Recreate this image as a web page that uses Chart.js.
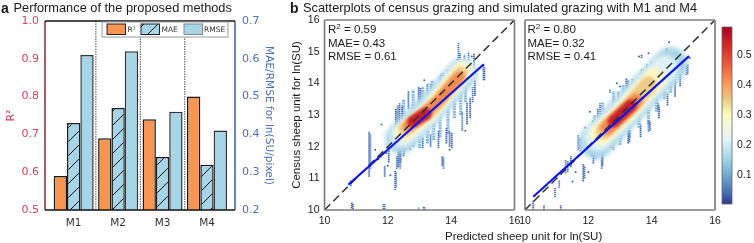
<!DOCTYPE html>
<html>
<head>
<meta charset="utf-8">
<script src="https://cdn.jsdelivr.net/npm/chart.js@4"></script>
<style>
html, body { margin: 0; padding: 0; background: #fff; width: 754px; height: 243px; overflow: hidden; }
canvas { position: absolute; left: 0; top: 0; }
.t { position: absolute; font-family: "Liberation Sans", sans-serif; color: #1a1a1a; white-space: nowrap; line-height: 1; }
.t sup { font-size: 0.7em; line-height: 0; vertical-align: 0.45em; }
.note { font-size: 11.5px; line-height: 13.7px; }
</style>
</head>
<body>
<canvas id="bars" width="754" height="243"></canvas>
<canvas id="m1" width="754" height="243"></canvas>
<canvas id="m4" width="754" height="243"></canvas>
<canvas id="cbar" width="754" height="243"></canvas>
<div class="t" style="left:1px;top:1px;font-size:14px;font-weight:bold">a</div>
<div class="t" style="left:13.5px;top:2px;font-size:12.8px">Performance of the proposed methods</div>
<div class="t" style="left:290px;top:1px;font-size:14px;font-weight:bold">b</div>
<div class="t" style="left:303px;top:2px;font-size:12.8px">Scatterplots of census grazing and simulated grazing with M1 and M4</div>
<div class="t note" style="left:328px;top:23px">R<sup>2</sup> = 0.59<br>MAE= 0.43<br>RMSE = 0.61</div>
<div class="t note" style="left:527.5px;top:23px">R<sup>2</sup> = 0.80<br>MAE= 0.32<br>RMSE = 0.41</div>
<div class="t" style="left:445px;top:231px;font-size:11.5px">Predicted sheep unit for ln(SU)</div>
<script>
// Panel a
var methods = ['M1', 'M2', 'M3', 'M4'];
var r2Values = [0.59, 0.69, 0.74, 0.80];
var maeValues = [0.43, 0.47, 0.34, 0.32];
var rmseValues = [0.61, 0.62, 0.46, 0.41];
var legendLabels = ['R²', 'MAE', 'RMSE'];
var groupEdges = [0.5, 1.5, 2.5];

// Panel b: diagonal and fitted lines
var oneToOne = [[10, 10], [16, 16]];
var m1Fit = [[10.75, 10.8], [15.03, 14.6]];
var m4Fit = [[10.26, 10.42], [15.18, 14.86]];

// Density bands, outer colour to inner colour
var m1Sky = [[12.4, 12.25], [13.0, 12.85], [14.35, 14.3]];
var m1Pale = [[12.45, 12.35], [13.2, 13.0], [14.4, 14.4]];
var m1Cream = [[12.5, 12.45], [13.3, 13.1], [14.35, 14.4]];
var m1Tan = [[12.55, 12.55], [13.4, 13.2], [14.3, 14.3]];
var m1Orange = [[12.65, 12.65], [13.6, 13.45], [14.25, 14.2]];
var m1Red = [[12.8, 12.8], [13.2, 13.03]];

var m4Sky = [[12.25, 12.15], [13.1, 13.05], [14.6, 14.6]];
var m4Pale = [[12.3, 12.3], [13.1, 13.05], [14.4, 14.45]];
var m4Cream = [[12.4, 12.4], [13.2, 13.15], [14.1, 14.15]];
var m4Tan = [[12.5, 12.5], [13.3, 13.25], [13.9, 13.95]];
var m4Orange = [[12.6, 12.6], [13.5, 13.45]];
var m4Red = [[12.8, 12.8], [13.35, 13.3]];

// Vertical runs of dots: x, lowest y, highest y
var m1Runs = [
  [10.83, 10.75, 10.95], [10.86, 10.05, 10.25], [10.9, 10.02, 10.2], [11.86, 10.02, 10.2], [11.9, 10.02, 10.2],
  [12.97, 10, 10.08], [13.13, 10, 10.1], [13.17, 10, 10.08], [11.41, 11.05, 12.47], [11.45, 11.3, 12.4],
  [11.9, 11.05, 11.4], [12.03, 11.5, 12.0], [12.23, 10.63, 11.25], [12.26, 10.7, 11.2], [12.39, 11.3, 12.0],
  [12.33, 11.35, 11.9], [12.28, 11.3, 11.7], [12.5, 11.7, 12.2], [12.7, 11.9, 12.3], [13.76, 11.3, 11.65], [13.72, 11.4, 11.7],
  [14.02, 11.95, 12.45], [13.95, 12.0, 12.5], [13.6, 11.95, 12.5], [13.35, 12.0, 12.4], [13.1, 11.95, 12.3], [13.85, 12.1, 12.6],
  [12.25, 12.4, 13.2], [12.31, 12.5, 13.3], [12.37, 12.7, 13.37], [12.45, 12.7, 13.3], [12.65, 13.2, 13.75], [12.97, 13.26, 13.9],
  [13.03, 13.3, 13.85], [13.25, 13.5, 14.0], [13.35, 13.5, 14.0], [13.68, 13.85, 14.3], [13.75, 13.9, 14.35],
  [14.05, 14.2, 14.5], [14.23, 14.6, 15.3], [14.28, 14.55, 14.95], [14.55, 14.6, 15.0], [14.42, 14.5, 14.9],
  [14.72, 14.5, 14.95], [14.6, 12.9, 13.55], [14.5, 12.7, 13.4], [14.35, 12.5, 13.1], [14.68, 13.4, 13.9],
  [15.02, 14.1, 14.6], [15.05, 14.1, 14.5], [14.75, 13.6, 14.1]
];
var m4Runs = [
  [10.26, 10, 10.3], [10.6, 10, 10.15], [11.13, 10, 10.15], [10.95, 10.4, 10.7], [11.08, 10.7, 10.95],
  [11.28, 11.15, 11.58], [11.35, 11.2, 11.55], [11.45, 11.35, 11.7], [11.84, 10.9, 11.47], [11.88, 11.0, 11.4],
  [11.68, 11.9, 12.37], [11.95, 12.0, 12.47], [11.98, 12.0, 12.4], [12.02, 12.0, 12.35], [12.16, 11.47, 12.0], [12.42, 11.3, 11.68],
  [12.45, 11.4, 11.9], [12.1, 11.7, 12.1], [12.79, 11.9, 12.16], [13.26, 12.1, 12.53], [13.3, 12.15, 12.5],
  [13.65, 12.3, 12.7], [13.9, 12.47, 12.84], [13.95, 12.5, 12.8], [14.2, 13.16, 13.37], [14.23, 12.9, 13.3],
  [14.5, 13.3, 13.7], [14.74, 13.58, 14.1], [14.9, 13.9, 14.3], [15.1, 14.26, 14.58], [15.14, 14.3, 14.6],
  [12.37, 12.84, 13.37], [12.3, 12.9, 13.2], [12.68, 13.7, 13.82], [12.95, 13.3, 13.75], [13.2, 13.6, 14.16],
  [13.25, 13.6, 14.1], [13.68, 14.8, 14.9], [13.85, 14.2, 14.6], [14.2, 14.37, 14.84], [14.25, 14.4, 14.8],
  [14.47, 14.74, 15.1], [14.74, 14.5, 14.95], [14.7, 14.6, 14.95]
];
// Lighter runs close to the dense band
var m1SoftRuns = [
  [12.4, 11.5, 12.6], [12.55, 11.9, 12.5], [12.8, 12.0, 12.6], [13.0, 11.95, 12.6], [13.25, 12.1, 12.8],
  [13.45, 12.2, 13.0], [13.65, 12.3, 13.1], [13.9, 12.4, 13.4], [14.1, 12.9, 13.6], [14.3, 13.0, 13.9],
  [14.45, 13.4, 14.0], [12.5, 13.0, 13.5], [12.8, 13.2, 13.8], [13.1, 13.4, 13.9], [13.4, 13.6, 14.1],
  [13.65, 13.8, 14.2], [13.9, 14.1, 14.45], [14.2, 14.3, 14.8], [14.4, 14.4, 14.75]
];
var m4SoftRuns = [
  [11.75, 11.85, 12.3], [11.95, 12.0, 12.4], [12.2, 11.6, 12.1], [12.3, 11.85, 12.25], [12.55, 11.9, 12.3],
  [12.7, 11.95, 12.4], [13.0, 12.05, 12.45], [13.3, 12.3, 12.65], [13.6, 12.6, 13.0], [13.9, 12.7, 13.2],
  [14.15, 13.1, 13.6], [14.4, 13.5, 14.0], [14.6, 13.7, 14.2], [12.2, 12.6, 13.0], [12.45, 13.0, 13.4],
  [12.8, 13.4, 13.75], [13.1, 13.55, 13.95], [13.4, 13.75, 14.15], [13.7, 14.05, 14.45], [14.0, 14.3, 14.7],
  [14.3, 14.5, 14.9]
];
// Single stray dots
var m1Strays = [[11.8, 12.7], [12.1, 12.3], [11.7, 11.6], [11.6, 11.9], [12.08, 11.1], [12.0, 11.4], [11.95, 11.8], [14.65, 14.85], [13.95, 11.9], [14.45, 12.5], [13.15, 14.1]];
var m4Strays = [[11.5, 10.9], [11.6, 11.2], [11.0, 11.0], [12.0, 11.2], [11.9, 12.6], [12.15, 12.8], [12.05, 13.1], [12.9, 14.0], [13.0, 13.9], [14.55, 15.3], [13.6, 14.85], [13.9, 14.95], [15.2, 14.8]];

// Colour bar
var cbarRange = [0.003, 0.593];
var cbarTicks = [0.1, 0.2, 0.3, 0.4, 0.5];
var cbarStops = [0, 0.07, 0.17, 0.27, 0.36, 0.48, 0.5, 0.6, 0.63, 0.7, 0.82, 0.92, 1];
var cbarColors = ['#313695', '#4575b4', '#74add1', '#abd9e9', '#e0f3f8', '#fbfbd0', '#ffffbf', '#e6c47e', '#f5b56e', '#f98e52', '#e34a33', '#c82027', '#a50026'];

// Diagonal hatch tile for the MAE bars
function hatchPattern(ctx) {
  var tile = document.createElement('canvas');
  tile.width = 14;
  tile.height = 14;
  var g = tile.getContext('2d');
  g.fillStyle = '#a6d5e8';
  g.fillRect(0, 0, 14, 14);
  g.strokeStyle = '#111';
  g.lineWidth = 1;
  g.beginPath();
  g.moveTo(-2, 16);
  g.lineTo(16, -2);
  g.stroke();
  return ctx.createPattern(tile, 'repeat');
}

function pts(list) {
  return list.map(function (p) { return { x: p[0], y: p[1] }; });
}

function runPts(list) {
  var out = [];
  list.forEach(function (r) {
    out.push({ x: r[0], y: r[1] }, { x: r[0], y: r[2] }, { x: NaN, y: NaN });
  });
  return out;
}

// Spines drawn around the plot area, colours come from options.plugins.frame
var framePlugin = {
  id: 'frame',
  afterDraw: function (chart, args, opts) {
    var a = chart.chartArea, c = chart.ctx;
    var sides = [
      [a.left, a.top, a.left, a.bottom, opts.left],
      [a.right, a.top, a.right, a.bottom, opts.right],
      [a.left, a.top, a.right, a.top, opts.top],
      [a.left, a.bottom, a.right, a.bottom, opts.bottom]
    ];
    c.save();
    c.lineWidth = opts.width;
    sides.forEach(function (s) {
      c.strokeStyle = s[4];
      c.beginPath();
      c.moveTo(s[0], s[1]);
      c.lineTo(s[2], s[3]);
      c.stroke();
    });
    c.restore();
  }
};

// Soft edges for the density bands
var blurPlugin = {
  id: 'blur',
  beforeDatasetDraw: function (chart, args) {
    var b = chart.data.datasets[args.index].blur;
    if (b) chart.ctx.filter = 'blur(' + b + 'px)';
  },
  afterDatasetDraw: function (chart) {
    chart.ctx.filter = 'none';
  }
};

// Dotted separators and the legend box of panel a
var barExtras = {
  id: 'barExtras',
  afterDraw: function (chart) {
    var c = chart.ctx, a = chart.chartArea, sx = chart.scales.x;
    c.save();
    c.strokeStyle = '#222';
    c.lineWidth = 0.8;
    c.setLineDash([1.5, 1]);
    groupEdges.forEach(function (v) {
      var px = sx.getPixelForValue(v);
      c.beginPath();
      c.moveTo(px, a.top);
      c.lineTo(px, a.bottom);
      c.stroke();
    });
    c.setLineDash([]);
    c.fillStyle = '#fff';
    c.fillRect(102, 22, 126, 15);
    c.strokeStyle = '#999';
    c.lineWidth = 1;
    c.strokeRect(102, 22, 126, 15);
    var fills = ['#f79552', hatchPattern(c), '#a6d5e8'];
    var boxX = [107, 141, 184];
    var textX = [127.5, 161.5, 204];
    c.font = '7.5px "DejaVu Sans"';
    c.textBaseline = 'middle';
    legendLabels.forEach(function (label, i) {
      c.fillStyle = fills[i];
      c.fillRect(boxX[i], 24, 18.5, 10.5);
      c.strokeStyle = i === 2 ? '#888' : '#222';
      c.strokeRect(boxX[i], 24, 18.5, 10.5);
      c.fillStyle = '#333';
      c.fillText(label, textX[i], 30);
    });
    c.restore();
  }
};

var barCtx = document.getElementById('bars').getContext('2d');
var barX = methods.map(function (m, i) { return i; });
function barData(values) {
  return values.map(function (v, i) { return { x: barX[i], y: v }; });
}
new Chart(barCtx, {
  type: 'bar',
  data: {
    datasets: [
      { label: legendLabels[0], data: barData(r2Values), yAxisID: 'y', backgroundColor: '#f79552', borderColor: '#1a1a1a', borderWidth: 1.5 },
      { label: legendLabels[1], data: barData(maeValues), yAxisID: 'y2', backgroundColor: hatchPattern(barCtx), borderColor: '#1a1a1a', borderWidth: 1.5 },
      { label: legendLabels[2], data: barData(rmseValues), yAxisID: 'y2', backgroundColor: '#a6d5e8', borderColor: '#333', borderWidth: 1.5 }
    ]
  },
  options: {
    responsive: false,
    animation: false,
    devicePixelRatio: 1,
    barPercentage: 1,
    categoryPercentage: 0.9,
    layout: { padding: { left: 5, right: 754 - 235 - 40, top: 21, bottom: 243 - 210 - 22 } },
    plugins: {
      legend: { display: false },
      tooltip: { enabled: false },
      frame: { left: '#8a2b2e', right: '#3f5f8f', top: '#111', bottom: '#111', width: 1.5 }
    },
    scales: {
      x: {
        type: 'linear',
        offset: false,
        min: -0.645,
        max: 3.63,
        grid: { display: false, offset: false, drawTicks: false },
        border: { display: false },
        afterBuildTicks: function (s) { s.ticks = barX.map(function (v) { return { value: v }; }); },
        afterFit: function (s) { s.height = 22; },
        ticks: {
          autoSkip: false,
          maxRotation: 0,
          padding: 7,
          color: '#333',
          font: { family: 'DejaVu Sans', size: 10.5 },
          callback: function (v) { return methods[v]; }
        }
      },
      y: {
        position: 'left',
        min: 0.5,
        max: 1.0,
        grid: { display: false, tickLength: 5, tickColor: '#d9405a', tickWidth: 1 },
        border: { display: false },
        afterFit: function (s) { s.width = 40; },
        title: { display: true, text: 'R²', color: '#d9405a', padding: 0, font: { family: 'DejaVu Sans', size: 11 } },
        ticks: { stepSize: 0.1, padding: 1, color: '#d9405a', font: { family: 'DejaVu Sans', size: 11 }, callback: function (v) { return v.toFixed(1); } }
      },
      y2: {
        position: 'right',
        min: 0.2,
        max: 0.7,
        grid: { display: false, tickLength: 5, tickColor: '#4a6fc0', tickWidth: 1 },
        border: { display: false },
        afterFit: function (s) { s.width = 40; },
        title: { display: true, text: 'MAE/RMSE for ln(SU/pixel)', color: '#4a6fc0', padding: 0, font: { family: 'DejaVu Sans', size: 10.6 } },
        ticks: { stepSize: 0.1, padding: 2, color: '#4a6fc0', font: { family: 'DejaVu Sans', size: 11 }, callback: function (v) { return v.toFixed(1); } }
      }
    }
  },
  plugins: [framePlugin, barExtras]
});

function band(list, color, width, blur) {
  return { type: 'scatter', data: pts(list), showLine: true, pointRadius: 0, borderColor: color, borderWidth: width, borderCapStyle: 'round', borderJoinStyle: 'round', blur: blur };
}
function runs(list, color, width, dash) {
  return { type: 'scatter', data: runPts(list), showLine: true, pointRadius: 0, borderColor: color, borderWidth: width, borderDash: dash };
}

function scatterPanel(id, s) {
  var layers = [
    runs(s.softRuns, 'rgba(125,180,215,0.9)', 3.2, [2, 0.6]),
    runs(s.runs, '#4670b5', 1.8, [1.4, 0.6]),
    { type: 'scatter', data: pts(s.strays), pointRadius: 1, pointBorderWidth: 0, pointBackgroundColor: '#3f62ad' },
    band(s.sky, '#a8d3e6', s.widths[0], 2.5),
    band(s.pale, '#dff1f5', s.widths[1], 2),
    band(s.cream, '#fbf7c4', s.widths[2], 1.5),
    band(s.tan, '#efc98a', s.widths[3], 1.5),
    band(s.orange, '#f58a4e', s.widths[4], 1.5),
    band(s.red, '#c81f27', s.widths[5], 1.5),
    { type: 'scatter', data: pts(oneToOne), showLine: true, pointRadius: 0, borderColor: '#333', borderWidth: 1.5, borderDash: [8, 4.5] },
    { type: 'scatter', data: pts(s.fit), showLine: true, pointRadius: 0, borderColor: '#0a14ee', borderWidth: 2.1 }
  ];
  layers.forEach(function (d, i) { d.order = -i; });
  return new Chart(document.getElementById(id).getContext('2d'), {
    type: 'scatter',
    data: { datasets: layers },
    options: {
      responsive: false,
      animation: false,
      devicePixelRatio: 1,
      layout: { padding: { left: s.left - 35, right: 754 - s.left - 190, top: 20, bottom: 243 - 210 - 20 } },
      plugins: {
        legend: { display: false },
        tooltip: { enabled: false },
        frame: { left: '#7f7f7f', right: '#7f7f7f', top: '#7f7f7f', bottom: '#7f7f7f', width: 1.7 }
      },
      scales: {
        x: {
          min: 10,
          max: 16,
          grid: { display: false, tickLength: 3, tickColor: '#444' },
          border: { display: false },
          afterFit: function (b) { b.height = 20; },
          ticks: { stepSize: 2, padding: 2, maxRotation: 0, color: '#1a1a1a', font: { family: 'Liberation Sans', size: 10.5 } }
        },
        y: {
          min: 10,
          max: 16,
          grid: { display: false, tickLength: 3, tickColor: '#444' },
          border: { display: false },
          afterFit: function (b) { b.width = 35; },
          title: { display: s.yTitle !== '', text: s.yTitle, color: '#1a1a1a', padding: 0, font: { family: 'Liberation Sans', size: 11.5 } },
          ticks: {
            stepSize: 1,
            padding: 2,
            color: '#1a1a1a',
            font: { family: 'Liberation Sans', size: 10.5 },
            callback: function (v) { return s.yLabels ? v : ''; }
          }
        }
      }
    },
    plugins: [blurPlugin, framePlugin]
  });
}

scatterPanel('m1', {
  left: 324.5, yLabels: true, yTitle: 'Census sheep unit for ln(SU)', fit: m1Fit,
  runs: m1Runs, softRuns: m1SoftRuns, strays: m1Strays,
  sky: m1Sky, pale: m1Pale, cream: m1Cream, tan: m1Tan, orange: m1Orange, red: m1Red,
  widths: [30, 24, 18, 14, 11, 12]
});
scatterPanel('m4', {
  left: 525, yLabels: false, yTitle: '', fit: m4Fit,
  runs: m4Runs, softRuns: m4SoftRuns, strays: m4Strays,
  sky: m4Sky, pale: m4Pale, cream: m4Cream, tan: m4Tan, orange: m4Orange, red: m4Red,
  widths: [34, 28, 22, 17, 14, 12]
});

// Colour bar as one floating bar filled with a gradient along its scale
new Chart(document.getElementById('cbar').getContext('2d'), {
  type: 'bar',
  data: {
    labels: [''],
    datasets: [{
      data: [cbarRange],
      barPercentage: 1,
      categoryPercentage: 1,
      backgroundColor: function (ctx) {
        var a = ctx.chart.chartArea;
        if (!a) return '#888';
        var g = ctx.chart.ctx.createLinearGradient(0, a.bottom, 0, a.top);
        cbarStops.forEach(function (s, i) { g.addColorStop(s, cbarColors[i]); });
        return g;
      }
    }]
  },
  options: {
    responsive: false,
    animation: false,
    devicePixelRatio: 1,
    layout: { padding: { left: 722, right: 754 - 732 - 22, top: 27, bottom: 243 - 204 } },
    plugins: {
      legend: { display: false },
      tooltip: { enabled: false },
      frame: { left: '#666', right: '#666', top: '#666', bottom: '#666', width: 0.8 }
    },
    scales: {
      x: { display: false },
      y: {
        position: 'right',
        min: cbarRange[0],
        max: cbarRange[1],
        grid: { display: false, tickLength: 3, tickColor: '#444' },
        border: { display: false },
        afterFit: function (b) { b.width = 22; },
        afterBuildTicks: function (b) { b.ticks = cbarTicks.map(function (v) { return { value: v }; }); },
        ticks: { padding: 2, color: '#1a1a1a', font: { family: 'Liberation Sans', size: 10.5 } }
      }
    }
  },
  plugins: [framePlugin]
});
</script>
</body>
</html>
